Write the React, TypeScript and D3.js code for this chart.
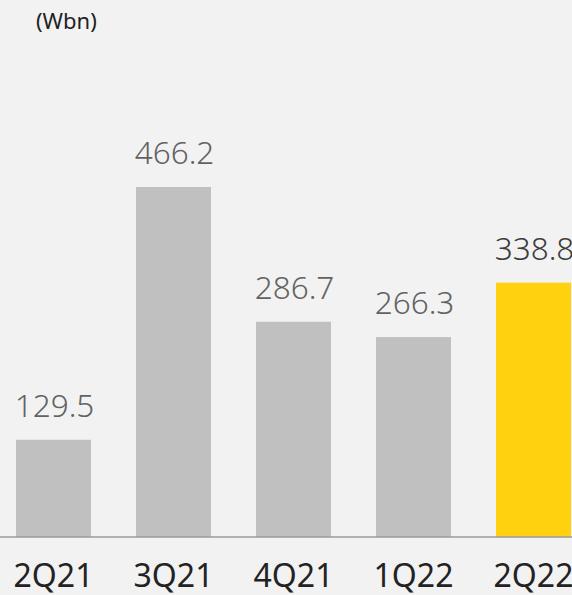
import React from "react";
import * as d3 from "d3";

const categories = ["2Q21", "3Q21", "4Q21", "1Q22", "2Q22"];
const values = [129.5, 466.2, 286.7, 266.3, 338.8];
const highlight = [false, false, false, false, true];
const unitLabel = "(Wbn)";

const W = 572;
const H = 595;

export default function App() {
  const x = d3
    .scaleBand<string>()
    .domain(categories)
    .range([-6.5, 593.5])
    .paddingInner(0.375)
    .paddingOuter(0.1875);
  const baseY = 537;
  const y = d3.scaleLinear().domain([0, 466.2]).range([baseY, 187]);
  const font = "'Noto Sans', 'Open Sans', sans-serif";

  return (
    <svg
      width={W}
      height={H}
      style={{ position: "fixed", left: 0, top: 0, background: "#f2f2f2" }}
    >
      <rect x={0} y={0} width={W} height={H} fill="#f2f2f2" />
      <text x={36} y={29} fontFamily={font} fontSize={22} fill="#222">
        {unitLabel}
      </text>
      {categories.map((c, i) => {
        const bx = x(c)!;
        const by = y(values[i]);
        return (
          <g key={c}>
            <rect
              x={bx}
              y={by}
              width={x.bandwidth()}
              height={baseY - by}
              fill={highlight[i] ? "#ffd10f" : "#c0c0c0"}
            />
            <text
              x={bx + x.bandwidth() / 2 + 1}
              y={by - 23}
              textAnchor="middle"
              fontFamily={font}
              fontSize={31.5}
              fontWeight={300}
              fill={highlight[i] ? "#3c3c3c" : "#626262"}
            >
              {values[i].toFixed(1)}
            </text>
            <text
              x={bx + x.bandwidth() / 2}
              y={587}
              textAnchor="middle"
              fontFamily={font}
              fontSize={32}
              fill="#222"
            >
              {c}
            </text>
          </g>
        );
      })}
      <line x1={0} x2={W} y1={baseY} y2={baseY} stroke="#9a9a9a" strokeWidth={1.5} />
    </svg>
  );
}
